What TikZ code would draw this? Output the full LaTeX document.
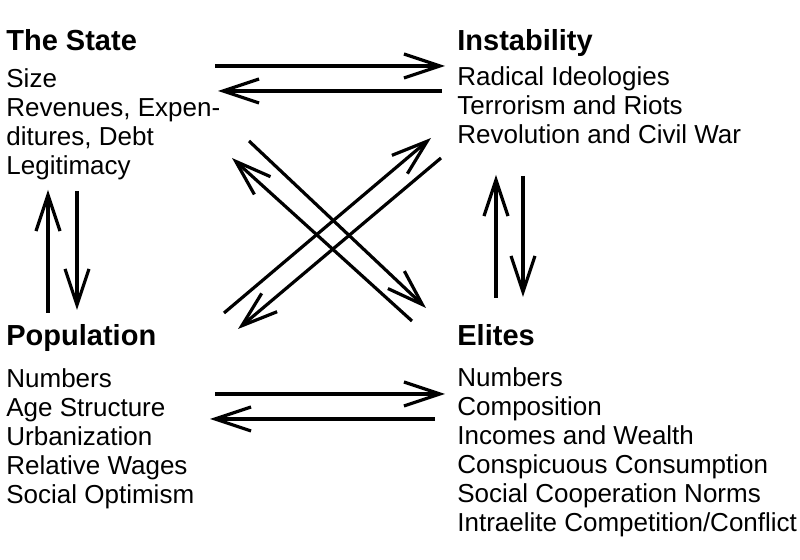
\documentclass[tikz,border=0pt]{standalone}
\usepackage{fontspec}
\setmainfont{Liberation Sans}
\usepackage{tikz}
\usetikzlibrary{arrows.meta, positioning}

\tikzset{
    head/.style={anchor=base west, inner sep=0pt, font=\fontsize{14.5}{16}\selectfont\bfseries},
    list/.style={anchor=north west, inner sep=0pt, align=left, font=\fontsize{13}{14.5}\selectfont},
    link/.style={-{Straight Barb[length=18pt, width=12pt]}, line width=1.6pt}
}

\begin{document}
\begin{tikzpicture}[x=0.5pt, y=-0.5pt]
    \useasboundingbox (0,0) rectangle (800,560);

    % Nodes representing the four blocks
    \node (state) [head] at (6,51) {The State};
    \node (stateL) [list] at (6,68) {Size\\Revenues, Expen-\\ditures, Debt\\Legitimacy};
    \node (inst) [head] at (457,51) {Instability};
    \node (instL) [list] at (457,66) {Radical Ideologies\\Terrorism and Riots\\Revolution and Civil War};
    \node (pop) [head] at (6,346) {Population};
    \node (popL) [list] at (6,368) {Numbers\\Age Structure\\Urbanization\\Relative Wages\\Social Optimism};
    \node (elite) [head] at (457,346) {Elites};
    \node (eliteL) [list] at (457,367) {Numbers\\Composition\\Incomes and Wealth\\Conspicuous Consumption\\Social Cooperation Norms\\Intraelite Competition/Conflict};

    % Arrow ends
    \coordinate (si1) at (215,66);  \coordinate (si2) at (445,66);
    \coordinate (is1) at (442,91);  \coordinate (is2) at (218,91);
    \coordinate (pe1) at (215,394); \coordinate (pe2) at (445,394);
    \coordinate (ep1) at (435,419); \coordinate (ep2) at (210,419);
    \coordinate (ps1) at (48,313);  \coordinate (ps2) at (48,190);
    \coordinate (sp1) at (77,191);  \coordinate (sp2) at (77,310);
    \coordinate (ei1) at (496,298); \coordinate (ei2) at (496,175);
    \coordinate (ie1) at (523,176); \coordinate (ie2) at (523,297);
    \coordinate (se1) at (249,141); \coordinate (se2) at (426,308);
    \coordinate (es1) at (412,321); \coordinate (es2) at (232,158);
    \coordinate (pi1) at (224,313); \coordinate (pi2) at (431,138);
    \coordinate (ip1) at (441,158); \coordinate (ip2) at (238,329);

    % Arrows representing the feedbacks
    \draw[link] (si1) -- (si2);
    \draw[link] (is1) -- (is2);
    \draw[link] (pe1) -- (pe2);
    \draw[link] (ep1) -- (ep2);
    \draw[link] (ps1) -- (ps2);
    \draw[link] (sp1) -- (sp2);
    \draw[link] (ei1) -- (ei2);
    \draw[link] (ie1) -- (ie2);
    \draw[link] (se1) -- (se2);
    \draw[link] (es1) -- (es2);
    \draw[link] (pi1) -- (pi2);
    \draw[link] (ip1) -- (ip2);
\end{tikzpicture}
\end{document}
